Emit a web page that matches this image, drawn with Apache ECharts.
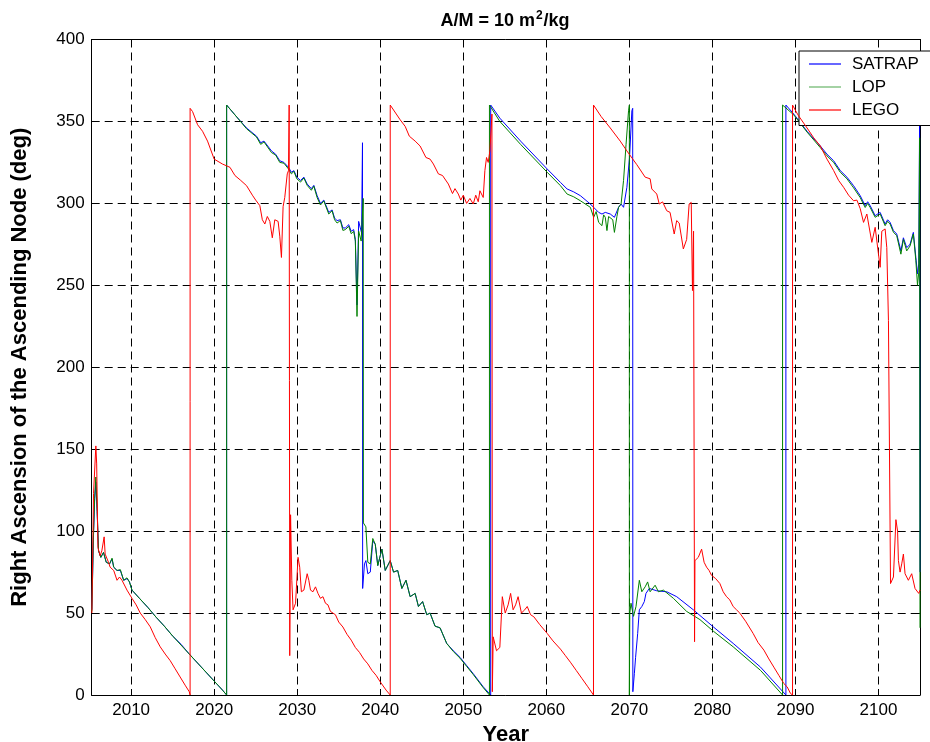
<!DOCTYPE html>
<html>
<head>
<meta charset="utf-8">
<script src="https://cdn.jsdelivr.net/npm/echarts@6/dist/echarts.min.js"></script>
<style>
html,body{margin:0;padding:0;background:#fff;}
#chart{width:930px;height:742px;}
</style>
</head>
<body>
<div id="chart"></div>
<script>
// ---- Data (year, RAAN deg) ----
const seriesNames = ['SATRAP', 'LOP', 'LEGO'];
const yTicks = [0, 50, 100, 150, 200, 250, 300, 350, 400];
const xTicks = [2010, 2020, 2030, 2040, 2050, 2060, 2070, 2080, 2090, 2100];

const satrap = [
  [2005.27,52],[2005.45,95],[2005.6,118],[2005.75,130],[2005.9,112],[2006.07,88],[2006.35,84],[2006.67,87],
  [2007.0,81],[2007.4,80],[2007.7,83],[2007.9,78],[2008.3,76],[2008.7,76],[2009.1,70],[2009.5,71],[2009.8,69],
  [2010.1,64],[2011,59],[2012,53.5],[2013,47.5],[2014,42],[2015,36],[2016,31],[2017,25],[2018,19.5],[2019,14],
  [2020,8.5],[2021,3],[2021.5,0],
  [2021.5,360],[2022.5,354],[2023.9,346],[2025.1,341],[2025.6,337],[2026.0,338],[2026.9,332],[2027.4,330],
  [2027.9,326],[2028.4,325],[2028.95,322],[2029.3,319],[2029.6,320],[2029.95,316],[2030.4,314],[2030.8,316],
  [2031.2,311.8],[2031.7,309],[2032.0,311],[2032.4,304.7],[2032.8,300],[2033.2,302],[2033.8,294.5],[2034.2,296],
  [2034.5,291],[2034.8,289.5],[2035.2,290],[2035.5,285],[2035.8,285],[2036.2,287],[2036.5,283],[2036.8,284],
  [2037.0,278],[2037.2,238],[2037.4,289],[2037.6,290],[2037.75,282],[2037.86,337],[2037.88,65],
  [2038.1,80],[2038.27,82],[2038.5,74],[2038.8,75],[2039.1,94],[2039.4,92],[2039.7,79],[2039.9,79],[2040.2,89],
  [2040.6,76],[2041.2,82],[2041.6,75],[2042.1,76],[2042.6,65],[2043.1,70],[2043.6,60],[2044.2,62],[2044.6,54],
  [2045.1,57],[2045.6,49],[2046.0,50],[2046.6,42],[2047.2,41],[2048.0,31.5],[2048.8,27],[2049.6,23],[2050.4,18],
  [2051.2,13],[2052.4,5],[2053.3,0],
  [2053.3,360],[2054.4,352],[2056.9,338],[2060.1,321],[2061.7,312.8],[2062.5,308.8],[2063.3,307],[2064.1,304.7],
  [2065.3,299.6],[2066.3,294.5],[2066.7,293.5],[2067.1,294.5],[2067.7,293.5],[2068.2,291.5],[2068.7,297.6],
  [2069.0,299.6],[2069.3,297.6],[2069.7,309.8],[2070.02,328],[2070.3,356.5],[2070.4,358],[2070.42,2],
  [2070.6,13],[2070.75,23],[2071.0,37.6],[2071.2,52],[2071.5,54],[2071.8,57],[2072.0,62],[2072.4,65],[2073.3,63.6],
  [2074.5,63],[2075.7,60],[2077.7,52],[2080.1,41.6],[2082.5,31.5],[2085.8,17],[2088.85,0],
  [2088.85,360],[2089.8,354.5],[2091.4,344],[2093,335],[2093.8,330],[2094.6,326],[2095.4,320],[2096.2,316],
  [2097.0,310.8],[2097.8,304.7],[2098.4,298.6],[2098.7,301],[2099.0,298.6],[2099.6,292.5],[2100.2,294.5],
  [2100.8,287.4],[2101.1,290],[2101.4,288.4],[2101.8,283.4],[2102.2,281.3],[2102.7,271],[2103.0,279],[2103.4,273],
  [2103.8,275],[2104.2,282.3],[2104.5,267],[2104.7,257],[2104.85,263],[2104.95,350],[2105.0,75]
];

const lop = [
  [2005.27,51],[2005.45,96],[2005.6,120],[2005.75,133],[2005.9,114],[2006.07,88],[2006.35,84],[2006.67,87],
  [2007.0,81],[2007.4,80],[2007.7,83.5],[2007.9,78],[2008.3,76],[2008.7,76.5],[2009.1,70],[2009.5,71.5],[2009.8,69],
  [2010.1,64],[2011,59],[2012,53.5],[2013,47.5],[2014,42],[2015,36],[2016,30.5],[2017,25],[2018,19.5],[2019,14],
  [2020,8.5],[2021,3],[2021.5,0],
  [2021.5,360],[2022.5,354],[2023.9,345.5],[2025.1,340.5],[2025.6,336],[2026.0,337.5],[2026.9,331],[2027.4,329.5],
  [2027.9,325],[2028.4,324.5],[2028.95,321],[2029.3,318],[2029.6,319.5],[2029.95,315],[2030.4,313],[2030.8,315.5],
  [2031.2,311],[2031.7,308],[2032.0,310.5],[2032.4,303.5],[2032.8,299],[2033.2,301.5],[2033.8,293.5],[2034.2,295.5],
  [2034.5,290],[2034.8,288],[2035.2,289.5],[2035.5,283.5],[2035.8,284],[2036.2,286],[2036.5,281.5],[2036.8,283],
  [2037.0,277],[2037.2,231],[2037.4,283],[2037.7,277],[2037.95,303],[2037.97,105],
  [2038.27,102.6],[2038.5,81],[2038.8,80],[2039.1,95.5],[2039.4,92],[2039.7,79],[2039.9,79],[2040.2,89],
  [2040.6,76],[2041.2,82],[2041.6,75],[2042.1,76],[2042.6,65],[2043.1,70],[2043.6,60],[2044.2,62],[2044.6,54],
  [2045.1,57],[2045.6,49],[2046.0,50],[2046.6,42],[2047.2,41],[2048.0,31.5],[2048.8,26.5],[2049.6,22.5],[2050.4,17.5],
  [2051.2,12.5],[2052.4,4.5],[2053.15,0],
  [2053.15,360],[2054.4,350],[2056.9,336],[2060.1,319],[2061.7,310.8],[2062.5,305.7],[2063.3,304],[2064.1,301.6],
  [2065.3,297.6],[2065.7,291.5],[2066.0,295],[2066.3,288.4],[2066.7,286.4],[2066.9,293],[2067.1,291.5],
  [2067.3,283.4],[2067.5,292],[2067.7,292],[2068.0,290],[2068.2,282.3],[2068.5,292],[2068.7,297.6],[2069.0,299.6],
  [2069.3,314],[2069.6,336],[2069.9,356.5],[2070.0,360],[2070.0,0],
  [2070.05,50],[2070.2,56],[2070.5,48],[2070.8,54],[2071.2,70],[2071.5,63],[2071.9,66],[2072.2,69],[2072.5,63],
  [2073.1,67],[2073.5,63],[2074.1,64],[2075.3,59],[2076.9,51],[2078.5,46],[2080.1,39],[2082.5,29.4],[2085.8,15],
  [2088.45,0],
  [2088.45,360],[2089.8,354],[2091.4,343.5],[2093,334],[2093.8,329],[2094.6,325],[2095.4,319],[2096.2,315],
  [2097.0,309.5],[2097.8,303.5],[2098.4,297.5],[2098.7,300],[2099.0,297.5],[2099.6,291.5],[2100.2,293.5],
  [2100.8,286.4],[2101.1,289],[2101.4,287.4],[2101.8,282.4],[2102.2,280.3],[2102.7,269],[2103.0,278],[2103.4,271],
  [2103.8,274],[2104.2,281.3],[2104.5,265],[2104.7,250],[2104.85,258],[2104.95,340],[2105.0,41]
];

const lego = [
  [2005.27,50],[2005.47,123],[2005.75,152],[2005.85,141],[2006.0,90],[2006.27,85],[2006.47,88],[2006.75,96.5],
  [2006.87,86],[2007.27,81],[2007.47,78],[2007.7,79],[2007.9,76],[2008.3,70],[2008.6,72],[2008.9,70],[2009.5,64],
  [2010.1,59],[2010.6,55],[2011.1,50],[2011.7,46],[2012.3,41.6],[2012.9,35],[2013.5,29.4],[2014.1,25],[2014.7,21],
  [2015.3,16],[2015.9,11],[2016.5,6],[2017.0,2],[2017.1,0],
  [2017.1,358],[2017.4,356],[2018.0,348],[2018.6,344],[2019.2,338],[2020.0,327],[2021.0,324],[2021.9,322],
  [2022.5,317],[2023.2,314],[2023.9,310.8],[2024.6,305],[2025.0,302],[2025.5,298.6],[2025.8,290],[2026.1,287.4],
  [2026.4,292],[2026.7,289],[2027.0,279],[2027.3,290],[2027.7,289],[2027.9,280],[2028.1,267],[2028.3,298],
  [2028.5,303.6],[2028.8,318],[2028.95,320],[2029.03,360],[2029.1,24],[2029.2,110],[2029.35,70],[2029.5,52],
  [2029.8,56],[2030.1,84],[2030.3,78],[2030.5,63],[2030.8,64],[2031.2,74],[2031.4,70],[2031.6,64],[2031.9,63],
  [2032.2,66],[2032.5,62],[2032.8,59],[2033.1,60],[2033.4,56],[2033.7,55],[2034.0,51],[2034.2,52],[2034.6,49],
  [2035,44.5],[2035.5,41.5],[2036,37],[2036.5,33.5],[2037,29],[2037.5,26],[2038,22],[2038.5,19],[2039,15],
  [2039.5,12],[2040,8],[2040.7,3],[2041.2,0],
  [2041.2,360],[2042.4,351],[2043.0,347],[2043.5,341],[2044.2,338],[2044.8,335],[2045.5,328],[2046.0,327],
  [2046.4,324],[2047.0,318],[2047.5,317],[2048.2,311.8],[2048.7,306],[2049.0,309],[2049.4,305.7],[2049.7,302],
  [2050.0,305],[2050.4,300],[2050.8,303],[2051.2,299.6],[2051.5,305],[2051.8,301],[2052.0,307.7],[2052.4,303.6],
  [2052.6,320],[2052.8,328],[2053.0,325],[2053.2,332],[2053.45,354.5],[2053.5,2],
  [2053.6,35.5],[2054.0,27],[2054.4,29],[2054.7,60],[2055.05,50],[2055.4,55],[2055.7,62],[2056.0,52],[2056.3,55],
  [2056.6,60],[2057.0,50],[2057.4,52],[2057.7,54],[2058.1,49],[2058.5,47.7],[2059.2,43],[2060.1,37.6],[2060.8,33],
  [2061.7,28],[2062.3,24],[2062.9,20],[2063.6,15],[2064.3,10],[2065.0,5],[2065.68,0],
  [2065.68,360],[2066.6,353],[2067.7,346],[2068.9,338],[2069.7,332],[2070.9,323.6],[2071.9,316],[2072.5,315],
  [2072.7,308.8],[2073.3,305.7],[2073.6,299.6],[2074.0,300.9],[2074.5,295.5],[2074.9,294.5],[2075.4,281.3],
  [2075.7,289.5],[2076.0,288],[2076.5,272.2],[2076.9,278],[2077.2,299.6],[2077.45,300.6],[2077.6,246.8],
  [2077.73,283],[2077.85,32.5],[2077.9,82],[2078.3,84],[2078.7,89],[2079.0,81],[2079.3,78],[2079.6,76],[2079.9,73],
  [2080.4,71],[2080.9,68],[2081.3,63],[2081.7,60],[2082.1,58],[2082.5,54],[2082.9,52],[2083.3,50],[2084.0,45],
  [2084.9,37.6],[2085.5,32],[2086.2,27.4],[2086.8,22],[2087.4,17],[2088.0,12],[2088.6,7],[2089.0,5],[2089.4,1],
  [2089.65,0],
  [2089.65,360],[2090.3,354],[2091.4,346],[2092.2,340],[2093.0,335],[2093.8,327],[2094.6,320],[2095.2,314],
  [2095.8,309.8],[2096.4,305],[2097.0,301.6],[2097.4,302],[2097.8,296.8],[2098.2,288.4],[2098.6,293.5],
  [2099.2,276.2],[2099.6,285.4],[2100.0,269],[2100.2,261],[2100.4,283],[2100.8,284.4],[2101.0,273],[2101.2,228.5],
  [2101.45,68],[2101.8,72],[2102.1,107],[2102.3,100],[2102.4,82],[2102.6,75],[2102.8,80],[2103.0,86],[2103.2,74],
  [2103.6,70],[2104.0,74],[2104.4,65],[2104.85,62],[2105.0,64]
];

const seriesData = [satrap, lop, lego];
const seriesColors = ['#0000ff', '#008000', '#ff0000'];

// ---- Chart ----
const FONT = '"Liberation Sans", Arial, Helvetica, sans-serif';
const chart = echarts.init(document.getElementById('chart'), null, {renderer: 'canvas'});

const gridBox = {left: 91.7, top: 39.5, width: 828.3, height: 655.5};
const dashed = {show: true, lineStyle: {color: '#000', width: 1, type: [8, 5]}};

const option = {
  animation: false,
  backgroundColor: '#fff',
  title: {
    text: '{a|A/M = 10 m}{s|2}{a|/kg}',
    left: 505,
    top: 10,
    textAlign: 'center',
    padding: 0,
    textStyle: {
      rich: {
        a: {fontFamily: FONT, fontSize: 18, fontWeight: 'bold', color: '#000', lineHeight: 20, verticalAlign: 'bottom'},
        s: {fontFamily: FONT, fontSize: 12, fontWeight: 'bold', color: '#000', lineHeight: 20, verticalAlign: 'top', padding: [0, 1, 8, 1]}
      }
    }
  },
  legend: {
    orient: 'vertical',
    left: 799,
    top: 51,
    padding: [4.5, 12, 7, 10],
    itemGap: 6,
    itemWidth: 32,
    itemHeight: 1.2,
    icon: 'rect',
    backgroundColor: '#fff',
    borderColor: '#000',
    borderWidth: 1,
    borderRadius: 0,
    textStyle: {fontFamily: FONT, fontSize: 17, color: '#000', padding: [0, 0, 0, 6]},
    data: [
      {name: seriesNames[0]},
      {name: seriesNames[1], itemStyle: {opacity: 0.6}},
      {name: seriesNames[2]}
    ]
  },
  grid: Object.assign({show: false, containLabel: false, outerBoundsMode: 'none'}, gridBox),
  xAxis: [
    {
      type: 'value', min: 2005.25, max: 2105, splitNumber: 10,
      name: 'Year', nameLocation: 'middle', nameGap: 24,
      nameTextStyle: {fontFamily: FONT, fontSize: 22, fontWeight: 'bold', color: '#000'},
      axisLine: {show: true, onZero: false, lineStyle: {color: '#000', width: 1}},
      axisTick: {show: true, inside: true, length: 6, lineStyle: {color: '#000'}},
      axisLabel: {fontFamily: FONT, fontSize: 17, color: '#000', margin: 7, showMinLabel: false, showMaxLabel: false,
        formatter: v => (xTicks.indexOf(Math.round(v)) >= 0 && Math.abs(v - Math.round(v)) < 1e-6) ? String(Math.round(v)) : ''},
      splitLine: dashed
    },
    {
      type: 'value', min: 2005.25, max: 2105, splitNumber: 10, position: 'top',
      axisLine: {show: true, onZero: false, lineStyle: {color: '#000', width: 1}},
      axisTick: {show: true, inside: true, length: 6, lineStyle: {color: '#000'}},
      axisLabel: {show: false},
      splitLine: {show: false}
    }
  ],
  yAxis: [
    {
      type: 'value', min: yTicks[0], max: yTicks[yTicks.length - 1], interval: 50,
      name: 'Right Ascension of the Ascending Node (deg)', nameLocation: 'middle', nameGap: 61,
      nameTextStyle: {fontFamily: FONT, fontSize: 22, fontWeight: 'bold', color: '#000'},
      axisLine: {show: true, onZero: false, lineStyle: {color: '#000', width: 1}},
      axisTick: {show: true, inside: true, length: 6, lineStyle: {color: '#000'}},
      axisLabel: {fontFamily: FONT, fontSize: 17, color: '#000', margin: 7},
      splitLine: dashed
    },
    {
      type: 'value', min: yTicks[0], max: yTicks[yTicks.length - 1], interval: 50, position: 'right',
      axisLine: {show: true, onZero: false, lineStyle: {color: '#000', width: 1}},
      axisTick: {show: true, inside: true, length: 6, lineStyle: {color: '#000'}},
      axisLabel: {show: false},
      splitLine: {show: false}
    }
  ],
  series: seriesNames.map((name, i) => ({
    name: name,
    type: 'line',
    xAxisIndex: 0,
    yAxisIndex: 0,
    data: seriesData[i],
    showSymbol: false,
    symbol: 'none',
    clip: true,
    sampling: null,
    color: seriesColors[i],
    lineStyle: {color: seriesColors[i], width: 1},
    emphasis: {disabled: true},
    z: 2 + i
  }))
};

chart.setOption(option);
</script>
</body>
</html>
